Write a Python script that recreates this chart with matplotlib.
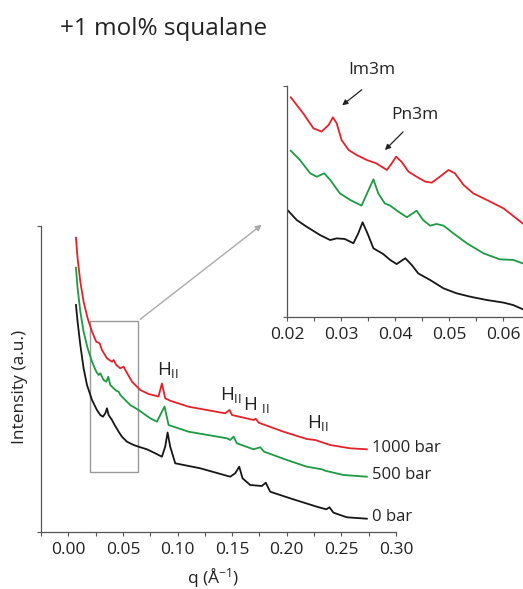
import matplotlib

matplotlib.use("Agg")

import matplotlib.pyplot as plt
from matplotlib.patches import Rectangle, FancyArrowPatch

plt.rcParams["font.family"] = ["Open Sans", "DejaVu Sans"]
plt.rcParams["mathtext.fontset"] = "custom"
plt.rcParams["mathtext.rm"] = "Open Sans"
plt.rcParams["mathtext.it"] = "Open Sans:italic"

RED = "#e3222b"
GREEN = "#1d9a43"
BLACK = "#161616"
SPINE = "#555555"

# main panel: q (1/A) and intensity (a.u.), offset curves
q_1000 = [0.0070, 0.0085, 0.0110, 0.0140, 0.0177, 0.0217, 0.0256, 0.0287, 0.0308, 0.0354,
          0.0400, 0.0415, 0.0439, 0.0476, 0.0506, 0.0531, 0.0583, 0.0659, 0.0735, 0.0826,
          0.0857, 0.0887, 0.0933, 0.1101, 0.1436, 0.1476, 0.1498, 0.1697, 0.1716,
          0.1743, 0.1970, 0.2184, 0.2260, 0.2397, 0.2580, 0.2733]
i_1000 = [294.3, 273.7, 250.3, 230.3, 213.7, 200.3, 190.3, 188.7, 182.0, 173.7,
          170.3, 172.0, 167.0, 163.7, 165.3, 160.3, 150.3, 142.0, 138.0, 135.5,
          148.5, 133.7, 131.3, 125.3, 118.7, 122.0, 117.0, 112.0, 113.3,
          109.3, 100.3, 93.0, 92.0, 87.0, 83.7, 82.7]

q_500 = [0.0070, 0.0085, 0.0110, 0.0140, 0.0177, 0.0217, 0.0256, 0.0278, 0.0293, 0.0323,
         0.0348, 0.0366, 0.0384, 0.0415, 0.0439, 0.0461, 0.0476, 0.0506, 0.0567, 0.0643,
         0.0750, 0.0811, 0.0881, 0.0918, 0.1101, 0.1452, 0.1482, 0.1513, 0.1543, 0.1696,
         0.1757, 0.1793, 0.2001, 0.2184, 0.2321, 0.2352, 0.2519, 0.2733]
i_500 = [264.3, 243.7, 220.3, 200.3, 183.7, 170.3, 160.3, 157.0, 158.7, 152.0,
         150.3, 155.3, 147.0, 143.7, 141.3, 140.3, 137.0, 133.7, 127.0, 122.0,
         113.7, 110.3, 125.5, 107.0, 100.3, 93.7, 92.0, 95.3, 88.7, 82.7,
         84.7, 80.3, 72.0, 65.3, 62.7, 61.3, 57.0, 55.3]

q_0 = [0.0070, 0.0085, 0.0110, 0.0140, 0.0171, 0.0217, 0.0262, 0.0293, 0.0317, 0.0339,
       0.0354, 0.0369, 0.0400, 0.0424, 0.0461, 0.0491, 0.0537, 0.0598, 0.0643, 0.0720,
       0.0796, 0.0857, 0.0887, 0.0909, 0.0933, 0.0979, 0.1208, 0.1482, 0.1528, 0.1565,
       0.1595, 0.1665, 0.1772, 0.1808, 0.1848, 0.2031, 0.2275, 0.2361, 0.2391, 0.2428,
       0.2550, 0.2733]
i_0 = [227.0, 210.3, 187.0, 163.7, 147.0, 132.0, 122.0, 117.0, 115.3, 118.7,
       123.7, 117.0, 112.0, 107.0, 100.3, 95.3, 90.3, 87.0, 85.3, 82.7,
       78.7, 75.3, 85.3, 99.5, 85.3, 68.7, 63.7, 55.3, 58.7, 65.3,
       53.7, 47.0, 46.0, 49.3, 40.3, 33.7, 25.3, 22.7, 24.7, 19.3,
       14.7, 13.3]

# inset panel: low-q region, own intensity scale
qi_1000 = [0.0207, 0.0230, 0.0249, 0.0264, 0.0277, 0.0285, 0.0292, 0.0301, 0.0314, 0.0329,
           0.0348, 0.0365, 0.0375, 0.0385, 0.0394, 0.0402, 0.0412, 0.0425, 0.0440, 0.0456,
           0.0468, 0.0483, 0.0499, 0.0511, 0.0527, 0.0545, 0.0570, 0.0601, 0.0637]
ii_1000 = [203.6, 193.1, 183.3, 181.2, 185.5, 190.5, 186.6, 175.7, 169.2, 165.9,
           162.6, 160.5, 158.3, 156.1, 160.5, 164.8, 161.5, 155.0, 151.7, 148.5,
           147.8, 151.7, 156.1, 153.9, 146.3, 140.8, 136.5, 131.0, 121.0]

qi_500 = [0.0207, 0.0224, 0.0243, 0.0255, 0.0269, 0.0280, 0.0298, 0.0317, 0.0338, 0.0351,
          0.0360, 0.0369, 0.0381, 0.0391, 0.0406, 0.0422, 0.0440, 0.0452, 0.0465, 0.0477,
          0.0490, 0.0508, 0.0533, 0.0564, 0.0594, 0.0619, 0.0637]
ii_500 = [168.7, 162.6, 153.9, 151.7, 153.9, 149.6, 140.8, 136.5, 132.8, 143.0,
          150.0, 140.8, 134.3, 132.8, 128.9, 125.2, 129.5, 123.4, 119.7, 120.8,
          119.7, 114.7, 108.2, 101.6, 97.7, 97.3, 95.0]

qi_0 = [0.0202, 0.0218, 0.0236, 0.0261, 0.0280, 0.0292, 0.0307, 0.0323, 0.0332, 0.0340,
        0.0349, 0.0360, 0.0378, 0.0391, 0.0403, 0.0419, 0.0431, 0.0443, 0.0465, 0.0490,
        0.0514, 0.0539, 0.0570, 0.0601, 0.0619, 0.0637]
ii_0 = [129.5, 123.4, 119.1, 113.6, 110.3, 111.4, 111.0, 108.2, 114.7, 121.9,
        114.7, 104.9, 101.2, 97.3, 94.6, 98.4, 94.0, 88.5, 84.2, 78.7,
        75.5, 73.3, 71.1, 69.4, 67.8, 65.0]

labels = ["1000 bar", "500 bar", "0 bar"]
hii_q = [0.0814, 0.139, 0.160, 0.2187]
hii_i = [157, 132, 122, 104]
hii_text = [r"H$_{\mathrm{II}}$", r"H$_{\mathrm{II}}$", r"H $_{\mathrm{II}}$", r"H$_{\mathrm{II}}$"]

W, H = 523, 589


def fx(px):
    return px / W


def fy(py):
    return 1 - py / H


def style_axes(a):
    a.tick_params(axis="both", which="both", direction="out", length=3, width=0.8,
                  colors=SPINE, labelcolor="#222222", labelsize=12.5, pad=4)
    for s in ["top", "right"]:
        a.spines[s].set_visible(False)
    for s in ["left", "bottom"]:
        a.spines[s].set_color(SPINE)
        a.spines[s].set_linewidth(0.9)


fig = plt.figure(figsize=(W / 100, H / 100), dpi=100)

ax = fig.add_axes([fx(41), fy(532), (396 - 41) / W, (532 - 226) / H])
series = [(q_1000, i_1000, RED), (q_500, i_500, GREEN), (q_0, i_0, BLACK)]
for (q, i, c), lab in zip(series, labels):
    ax.plot(q, i, color=c, lw=1.3)
    ax.text(0.278, i[-1] + 1.5, lab, ha="left", va="center", fontsize=12, color="#222222")

ax.set_xlim(-0.025, 0.30)
ax.set_ylim(0, 306)
ax.set_xticks([0.0, 0.05, 0.10, 0.15, 0.20, 0.25, 0.30])
ax.set_xticklabels(["0.00", "0.05", "0.10", "0.15", "0.20", "0.25", "0.30"])
ax.set_xticks([-0.025, 0.025, 0.075, 0.125, 0.175, 0.225, 0.275], minor=True)
ax.set_yticks([0, 306])
ax.set_yticklabels([])
style_axes(ax)

for q, i, t in zip(hii_q, hii_i, hii_text):
    ax.text(q, i, t, ha="left", va="baseline", fontsize=13.5, color="#222222")

ax.add_patch(Rectangle((0.020, 60), 0.044, 151, fill=False, ec="#999999", lw=1.0))

fig.text(fx(60), fy(29), "+1 mol% squalane", ha="left", va="center", fontsize=17.5, color="#222222")
fig.text(fx(20), fy(387), "Intensity (a.u.)", rotation=90, ha="center", va="center",
         fontsize=12.5, color="#222222")
fig.text(fx(213), fy(578), r"q (Å$^{-1}$)", ha="center", va="center", fontsize=12.5, color="#222222")

# zoom arrow from box to inset
fig.add_artist(FancyArrowPatch(
    (fx(138), fy(321)), (fx(264), fy(223)), transform=fig.transFigure,
    arrowstyle="-|>", mutation_scale=9, lw=1.0, color="#aaaaaa"))

# inset
ins = fig.add_axes([fx(287), fy(317), (523 - 287) / W, (317 - 86) / H])
inset_series = [(qi_1000, ii_1000, RED), (qi_500, ii_500, GREEN), (qi_0, ii_0, BLACK)]
for q, i, c in inset_series:
    ins.plot(q, i, color=c, lw=1.3)
ins.set_xlim(0.02, 0.0637)
ins.set_ylim(60, 211)
ins.set_xticks([0.02, 0.03, 0.04, 0.05, 0.06])
ins.set_xticklabels(["0.02", "0.03", "0.04", "0.05", "0.06"])
ins.set_xticks([0.025, 0.035, 0.045, 0.055], minor=True)
ins.set_yticks([60, 211])
ins.set_yticklabels([])
style_axes(ins)

fig.text(fx(372), fy(70), "Im3m", ha="center", va="center", fontsize=12.5, color="#222222")
fig.add_artist(FancyArrowPatch(
    (fx(364), fy(88)), (fx(340), fy(107)), transform=fig.transFigure,
    arrowstyle="-|>", mutation_scale=8, lw=0.9, color="#222222"))
fig.text(fx(415), fy(115), "Pn3m", ha="center", va="center", fontsize=12.5, color="#222222")
fig.add_artist(FancyArrowPatch(
    (fx(405), fy(130)), (fx(383), fy(152)), transform=fig.transFigure,
    arrowstyle="-|>", mutation_scale=8, lw=0.9, color="#222222"))

fig.savefig("out.png", dpi=100)
